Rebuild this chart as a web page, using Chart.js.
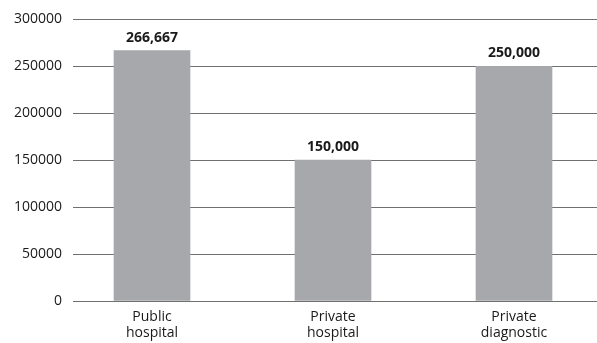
<!DOCTYPE html>
<html>
<head>
<meta charset="utf-8">
<script src="https://cdn.jsdelivr.net/npm/chart.js@4/dist/chart.umd.min.js"></script>
<style>
    html, body { margin: 0; padding: 0; background: #fff; overflow: hidden; }
    #wrap { width: 597px; height: 343px; position: relative; }
</style>
</head>
<body>
<div id="wrap"><canvas id="myChart"></canvas></div>
<script>
// Categorias y costos
const categorias = [["Public", "hospital"], ["Private", "hospital"], ["Private", "diagnostic"]];
const costos = [266667, 150000, 250000];
const yMax = 300000;
const yPaso = 50000;

// Etiqueta con el valor encima de cada barra
const etiquetasValor = {
    id: 'etiquetasValor',
    afterDatasetsDraw(chart) {
        const ctx = chart.ctx;
        const meta = chart.getDatasetMeta(0);
        ctx.save();
        ctx.font = 'bold 14px "Open Sans"';
        ctx.fillStyle = '#1a1a1a';
        ctx.textAlign = 'center';
        ctx.textBaseline = 'bottom';
        meta.data.forEach((barra, i) => {
            ctx.fillText(costos[i].toLocaleString('en-US'), barra.x, barra.y - 6);
        });
        ctx.restore();
    }
};

function crearGrafico() {
    const ctx = document.getElementById('myChart').getContext('2d');
    new Chart(ctx, {
        type: 'bar',
        data: {
            datasets: [{
                data: costos.map((v, i) => ({ x: i, y: v })),
                backgroundColor: '#a7a8ab',
                barThickness: 76
            }]
        },
        options: {
            responsive: true,
            maintainAspectRatio: false,
            animation: false,
            layout: { padding: { top: 19, right: 0, left: 0, bottom: 0 } },
            scales: {
                x: {
                    type: 'linear',
                    offset: false,
                    min: -0.4365,
                    max: 2.4586,
                    grid: { display: false },
                    border: { display: false },
                    afterBuildTicks: (s) => { s.ticks = categorias.map((c, i) => ({ value: i })); },
                    afterFit: (s) => { s.height = 42; },
                    ticks: {
                        padding: 0,
                        color: '#1a1a1a',
                        font: { family: 'Open Sans', size: 14, lineHeight: 1.16 },
                        callback: (v) => categorias[v]
                    }
                },
                y: {
                    min: 0,
                    max: yMax,
                    afterFit: (s) => { s.width = 73; },
                    grid: { color: '#707070', drawTicks: false },
                    border: { display: false },
                    ticks: {
                        stepSize: yPaso,
                        padding: 11,
                        color: '#1a1a1a',
                        font: { family: 'Open Sans', size: 14 },
                        callback: (v) => String(v)
                    }
                }
            },
            plugins: {
                legend: { display: false },
                tooltip: { enabled: false }
            }
        },
        plugins: [etiquetasValor]
    });
}

crearGrafico();
</script>
</body>
</html>
